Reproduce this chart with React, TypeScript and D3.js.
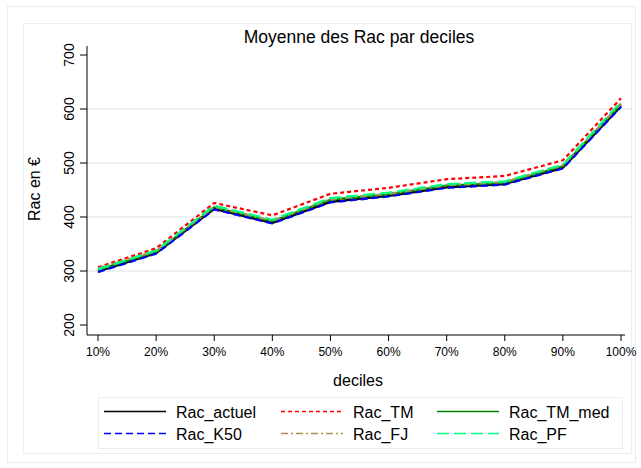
import React from "react";
import * as d3 from "d3";

const categories = ["10%", "20%", "30%", "40%", "50%", "60%", "70%", "80%", "90%", "100%"];
const yTicks = [200, 300, 400, 500, 600, 700];
const gridTicks = [300, 400, 500, 600];

const racActuel = [299, 333, 415, 389, 428, 439, 455, 461, 491, 605];
const racTM = [307, 342, 426, 403, 443, 454, 470, 476, 505, 620];
const racTMmed = [302, 335, 418, 392, 432, 442, 458, 463, 494, 609];
const racK50 = [298, 332, 414, 388, 427, 438, 454, 460, 490, 604];
const racFJ = [305, 337, 419, 393, 433, 443, 459, 465, 496, 610];
const racPF = [303, 338, 421, 395, 435, 445, 461, 466, 497, 613];

const series = [
  { name: "Rac_actuel", values: racActuel, color: "#000000", dash: "" },
  { name: "Rac_TM", values: racTM, color: "#ff0000", dash: "4,3" },
  { name: "Rac_TM_med", values: racTMmed, color: "#008000", dash: "" },
  { name: "Rac_K50", values: racK50, color: "#0000ff", dash: "7,4" },
  { name: "Rac_FJ", values: racFJ, color: "#a89058", dash: "7,3,2,3" },
  { name: "Rac_PF", values: racPF, color: "#00ff7f", dash: "12,5" },
];

const legendOrder = [0, 1, 2, 3, 4, 5];

export default function App() {
  const W = 641, H = 468;
  const x = d3.scalePoint<string>().domain(categories).range([98, 621]);
  const y = d3.scaleLinear().domain([200, 700]).range([325, 55]);
  const line = d3
    .line<number>()
    .x((_, i) => x(categories[i]) as number)
    .y((d) => y(d));
  const font = "'Liberation Sans', Arial, sans-serif";
  const axisLeft = 87;
  const axisBottom = 335;

  return (
    <svg
      width={W}
      height={H}
      style={{ position: "absolute", left: 0, top: 0, background: "#fff" }}
      fontFamily={font}
    >
      <rect x={7.5} y={6.5} width={628} height={456} fill="none" stroke="#e6eef0" strokeWidth={1} />
      <rect x={23.5} y={23.5} width={608} height={430} fill="none" stroke="#e9f0f2" strokeWidth={1} />
      <text x={359} y={43} textAnchor="middle" fontSize={17.5} fill="#000">
        Moyenne des Rac par deciles
      </text>
      {gridTicks.map((t) => (
        <line key={t} x1={axisLeft} x2={631} y1={y(t)} y2={y(t)} stroke="#e6eef0" strokeWidth={1.5} />
      ))}
      <line x1={axisLeft} x2={axisLeft} y1={46} y2={axisBottom} stroke="#000" strokeWidth={1} />
      <line x1={axisLeft} x2={625} y1={axisBottom} y2={axisBottom} stroke="#000" strokeWidth={1} />
      {yTicks.map((t) => (
        <g key={t}>
          <line x1={axisLeft - 7} x2={axisLeft} y1={y(t)} y2={y(t)} stroke="#000" />
          <text
            transform={`translate(${axisLeft - 13},${y(t)}) rotate(-90)`}
            textAnchor="middle"
            fontSize={14}
            fill="#000"
          >
            {t}
          </text>
        </g>
      ))}
      {categories.map((c) => (
        <g key={c}>
          <line x1={x(c)} x2={x(c)} y1={axisBottom} y2={axisBottom + 6} stroke="#000" />
          <text x={x(c)} y={axisBottom + 21} textAnchor="middle" fontSize={12} fill="#000">
            {c}
          </text>
        </g>
      ))}
      <text transform={`translate(40,189) rotate(-90)`} textAnchor="middle" fontSize={16} fill="#000">
        Rac en €
      </text>
      <text x={358} y={386} textAnchor="middle" fontSize={16} fill="#000">
        deciles
      </text>
      {series.map((s) => (
        <path
          key={s.name}
          d={line(s.values) || ""}
          fill="none"
          stroke={s.color}
          strokeWidth={2.2}
          strokeDasharray={s.dash}
          strokeLinejoin="round"
        />
      ))}
      <rect x={98.5} y={397.5} width={524} height={51} fill="#fff" stroke="#e6eef0" />
      {legendOrder.map((idx, k) => {
        const s = series[idx];
        const col = k % 3;
        const row = Math.floor(k / 3);
        const lx = [104, 281, 437][col];
        const ly = 411.5 + row * 22;
        return (
          <g key={s.name}>
            <line x1={lx} x2={lx + 62} y1={ly} y2={ly} stroke={s.color} strokeWidth={1.5} strokeDasharray={s.dash} />
            <text x={lx + 72} y={ly + 6} fontSize={16} fill="#000">
              {s.name}
            </text>
          </g>
        );
      })}
    </svg>
  );
}
